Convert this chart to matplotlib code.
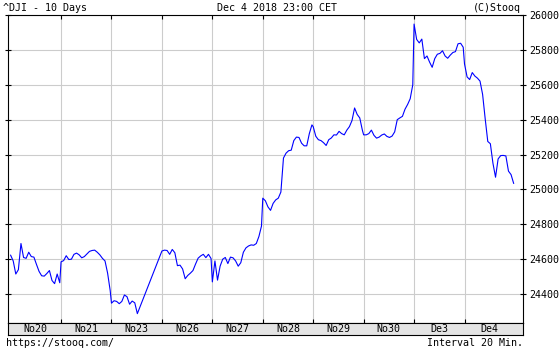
import numpy as np
import matplotlib
matplotlib.use("Agg")
import matplotlib.pyplot as plt

# ---- data (20-minute bars, ^DJI, 10 sessions) ----
day_labels = ["No20", "No21", "No23", "No26", "No27", "No28", "No29", "No30", "De3", "De4"]

no20 = [24623, 24590, 24515, 24540, 24690, 24610, 24605, 24640, 24615, 24612,
        24570, 24530, 24505, 24503, 24518, 24535, 24478, 24460, 24515, 24465]
no21 = [24585, 24592, 24620, 24598, 24600, 24628, 24635, 24625, 24608, 24615,
        24630, 24645, 24650, 24652, 24640, 24625, 24605, 24590, 24520, 24420]
no23 = [24348, 24362, 24358, 24345, 24358, 24395, 24385, 24342, 24360, 24350, 24288]
no26 = [24647, 24652, 24650, 24628, 24656, 24637, 24563, 24566, 24544, 24488,
        24507, 24520, 24535, 24572, 24606, 24619, 24628, 24609, 24628, 24604]
no27 = [24470, 24590, 24480, 24560, 24600, 24610, 24575, 24612, 24608, 24590,
        24560, 24580, 24640, 24665, 24676, 24682, 24680, 24690, 24730, 24790]
no28 = [24950, 24935, 24900, 24880, 24920, 24940, 24950, 24985, 25180, 25208,
        25222, 25225, 25280, 25300, 25298, 25265, 25250, 25250, 25320, 25370]
no29 = [25360, 25305, 25285, 25280, 25268, 25252, 25285, 25295, 25313, 25312,
        25333, 25320, 25313, 25340, 25360, 25395, 25467, 25430, 25410, 25340]
no30 = [25313, 25313, 25320, 25340, 25310, 25294, 25300, 25312, 25318, 25304,
        25298, 25306, 25330, 25400, 25410, 25419, 25460, 25487, 25520, 25600]
de3 = [25948, 25860, 25840, 25862, 25750, 25765, 25730, 25700, 25750, 25775,
       25780, 25795, 25765, 25752, 25770, 25785, 25790, 25835, 25838, 25815]
de4 = [25720, 25645, 25630, 25670, 25650, 25638, 25621, 25545, 25405, 25275,
       25262, 25150, 25070, 25175, 25194, 25195, 25192, 25105, 25085, 25035]

sessions = [no20, no21, no23, no26, no27, no28, no29, no30, de3, de4]
y_ticks = [24400, 24600, 24800, 25000, 25200, 25400, 25600, 25800, 26000]

BAR_MIN = 20
SESSION_MIN = 390

xs, ys = [], []
for d, vals in enumerate(sessions):
    for k, v in enumerate(vals):
        xs.append(d + k * BAR_MIN / SESSION_MIN)
        ys.append(v)

# ---- figure ----
W, H = 560, 350
fig = plt.figure(figsize=(W / 100, H / 100), dpi=100)
mono = "DejaVu Sans Mono"

def fx(px):
    return px / W

def fy(py):
    return 1 - py / H

L, R, T, B, BB = 8, 523, 15, 322.7, 334.5
ax = fig.add_axes([fx(L), fy(B), fx(R) - fx(L), fy(T) - fy(B)])
ax.plot(xs, ys, color="#0000ff", lw=0.8)
ax.set_xlim(-0.052, 10.16)
ax.set_ylim(24236, 26000)

ax.set_xticks(range(1, 10))
ax.set_yticks(y_ticks)
ax.grid(True, color="#cccccc", lw=0.8)
ax.set_axisbelow(True)
ax.yaxis.tick_right()
ax.tick_params(axis="y", left=True, right=True, direction="inout", length=5,
               width=0.8, labelsize=7.2, pad=2, labelleft=False, labelright=True)
ax.tick_params(axis="x", bottom=True, top=True, direction="in", length=3,
               width=0.8, labelbottom=False)
for lab in ax.get_yticklabels():
    lab.set_family(mono)
for s in ax.spines.values():
    s.set_color("black")
    s.set_linewidth(0.8)

# date band
bx = fig.add_axes([fx(L), fy(BB), fx(R) - fx(L), fy(B) - fy(BB)])
bx.set_facecolor("#e4e4e4")
bx.set_xlim(ax.get_xlim())
bx.set_ylim(0, 1)
bx.set_xticks([])
bx.set_yticks([])
for s in bx.spines.values():
    s.set_color("black")
    s.set_linewidth(0.8)
for d, lab in enumerate(day_labels):
    bx.text(d + 0.5, 0.45, lab, ha="center", va="center", fontsize=7.2, family=mono)

# header and footer
fig.text(fx(3), fy(8), "^DJI - 10 Days", ha="left", va="center", fontsize=7.2, family=mono)
fig.text(fx(277), fy(8), "Dec 4 2018 23:00 CET", ha="center", va="center", fontsize=7.2, family=mono)
fig.text(fx(521), fy(8), "(C)Stooq", ha="right", va="center", fontsize=7.2, family=mono)
fig.text(fx(6), fy(343), "https://stooq.com/", ha="left", va="center", fontsize=7.2, family=mono)
fig.text(fx(523), fy(343), "Interval 20 Min.", ha="right", va="center", fontsize=7.2, family=mono)

fig.savefig("out.png", dpi=100, facecolor="white")
